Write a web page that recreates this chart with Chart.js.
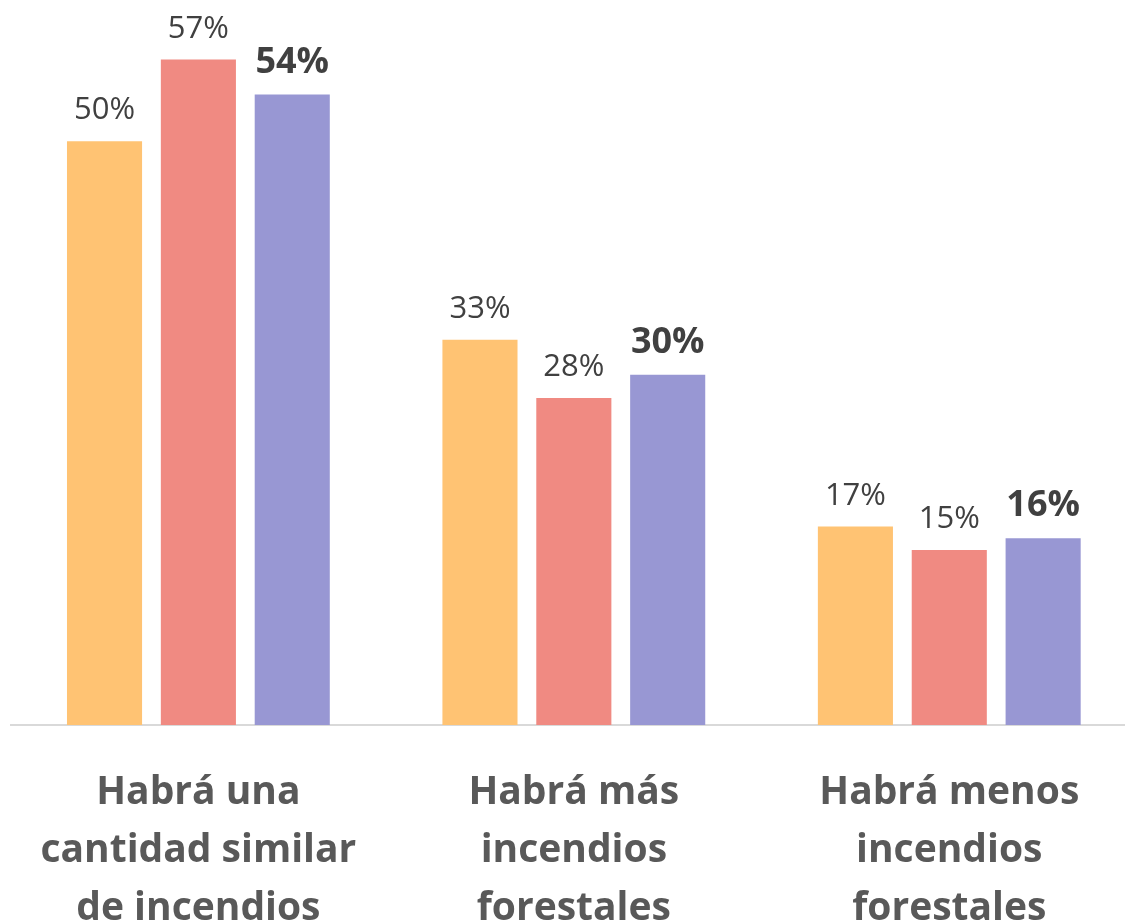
<!DOCTYPE html>
<html>
<head>
<meta charset="utf-8">
<script src="https://cdn.jsdelivr.net/npm/chart.js@4"></script>
<style>
  html, body { margin: 0; padding: 0; background: #fff; overflow: hidden; }
  #wrap { width: 1137px; height: 924px; }
</style>
</head>
<body>
<div id="wrap"><canvas id="barChart" width="1137" height="924"></canvas></div>
<script>
// Chart data
const categories = [
  ['Habrá una', 'cantidad similar', 'de incendios'],
  ['Habrá más', 'incendios', 'forestales'],
  ['Habrá menos', 'incendios', 'forestales']
];
const seriesA = [50, 33, 17];
const seriesB = [57, 28, 15];
const seriesC = [54, 30, 16];

// Draws the value labels above each bar (third series in bold)
const valueLabels = {
  id: 'valueLabels',
  afterDatasetsDraw(chart) {
    const ctx = chart.ctx;
    ctx.save();
    ctx.textAlign = 'center';
    ctx.textBaseline = 'alphabetic';
    chart.data.datasets.forEach((ds, i) => {
      const meta = chart.getDatasetMeta(i);
      const bold = i === 2;
      ctx.font = bold ? 'bold 36px "Open Sans"' : '31px "Open Sans"';
      ctx.fillStyle = '#404040';
      meta.data.forEach((bar, j) => {
        ctx.fillText(ds.data[j] + '%', bar.x, bar.y - 22);
      });
    });
    ctx.restore();
  }
};

const ctx = document.getElementById('barChart').getContext('2d');

new Chart(ctx, {
  type: 'bar',
  data: {
    labels: categories,
    datasets: [
      { label: 'A', data: seriesA, backgroundColor: '#FFC373' },
      { label: 'B', data: seriesB, backgroundColor: '#F08A82' },
      { label: 'C', data: seriesC, backgroundColor: '#9897D3' }
    ]
  },
  options: {
    responsive: false,
    animation: false,
    categoryPercentage: 0.75,
    barPercentage: 0.8,
    layout: { padding: { left: 9, right: 0, top: 0, bottom: 0 } },
    plugins: {
      legend: { display: false },
      tooltip: { enabled: false }
    },
    scales: {
      x: {
        grid: { display: false, drawTicks: false },
        border: { display: true, color: '#D9D9D9', width: 2 },
        ticks: {
          color: '#595959',
          font: { family: 'Open Sans', size: 39, weight: 'bold', lineHeight: 1.49 },
          padding: 39,
          maxRotation: 0,
          autoSkip: false
        },
        afterFit: (scale) => { scale.height = 199; }
      },
      y: {
        display: false,
        min: 0,
        max: 62.1
      }
    }
  },
  plugins: [valueLabels]
});
</script>
</body>
</html>
